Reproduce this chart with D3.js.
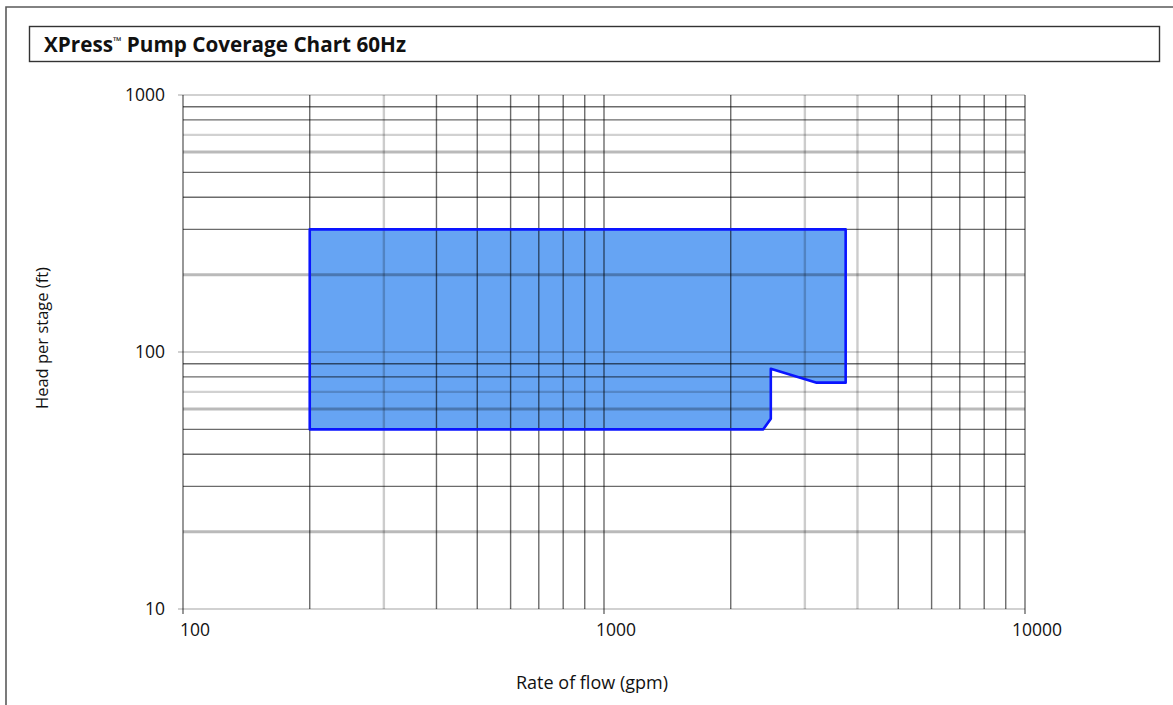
<!DOCTYPE html>
<html><head><meta charset="utf-8">
<script src="https://cdn.jsdelivr.net/npm/d3@7"></script>
<style>html,body{margin:0;padding:0;background:#fff}svg{display:block}</style>
</head><body>
<svg id="chart" width="1173" height="705"></svg>
<script>
// ---- data ----
const titleParts = ["XPress", "\u2122", " Pump Coverage Chart 60Hz"];
const xTitle = "Rate of flow (gpm)";
const yTitle = "Head per stage (ft)";
const xTickLabels = [100, 1000, 10000];
const yTickLabels = [10, 100, 1000];
const xGridValues = [100,200,300,400,500,600,700,800,900,1000,2000,3000,4000,5000,6000,7000,8000,9000,10000];
const yGridValues = [10,20,30,40,50,60,70,80,90,100,200,300,400,500,600,700,800,900,1000];
// coverage envelope (flow gpm, head ft), traced clockwise
const coverageFlow = [200, 2390, 2490, 2490, 3200, 3750, 3750, 200];
const coverageHead = [50, 50, 55, 86, 76, 76, 300, 300];

// ---- styling of the grid (as rendered in the reference) ----
const softX = new Set([300, 3000, 4000]);
const softY = new Set([1000, 700, 100, 70, 10]);
const softThickY = new Set([600, 200, 60, 20]);

const svg = d3.select("#chart");
const W = 1173, H = 705;
const font = "'Open Sans', 'DejaVu Sans', sans-serif";

// outer frame (top + left)
svg.append("path").attr("d", `M6,${H} L6,7 L${W},7`)
  .attr("fill","none").attr("stroke","#5a5a5a").attr("stroke-width",1.6);

// title box
svg.append("rect").attr("x",29.5).attr("y",26.5).attr("width",1130).attr("height",35)
  .attr("fill","none").attr("stroke","#333").attr("stroke-width",1.4);
const tt = svg.append("text").attr("x",44).attr("y",52)
  .attr("font-family",font).attr("font-weight","bold")
  .attr("font-size",20.7).attr("fill","#111");
tt.append("tspan").text(titleParts[0]);
tt.append("tspan").attr("font-size",11).attr("dy",-7).text(titleParts[1]);
tt.append("tspan").attr("dy",7).text(titleParts[2]);

const x = d3.scaleLog().domain([100,10000]).range([183,1025]);
const y = d3.scaleLog().domain([10,1000]).range([609,95]);

// coverage fill
const pts = coverageFlow.map((f,i)=>[x(f), y(coverageHead[i])]);
const lineGen = d3.line().curve(d3.curveLinearClosed);
svg.append("path").attr("d", lineGen(pts)).attr("fill","#66a4f3").attr("stroke","none");

// grid
const g = svg.append("g");
g.selectAll("line.v").data(xGridValues).join("line").attr("class","v")
  .attr("x1",d=>x(d)).attr("x2",d=>x(d)).attr("y1",y(1000))
  .attr("y2",d=>y(10)+(xTickLabels.includes(d)?5:0))
  .attr("stroke", d=> softX.has(d) ? "rgba(0,0,0,0.2)" : "rgba(0,0,0,0.58)")
  .attr("stroke-width", d=> softX.has(d) ? 2.4 : 1.4);
g.selectAll("line.h").data(yGridValues).join("line").attr("class","h")
  .attr("y1",d=>y(d)).attr("y2",d=>y(d))
  .attr("x1",d=>x(100)-(yTickLabels.includes(d)?5:0)).attr("x2",x(10000))
  .attr("stroke", d=> softThickY.has(d) ? "rgba(0,0,0,0.27)" : softY.has(d) ? "rgba(0,0,0,0.18)" : "rgba(0,0,0,0.58)")
  .attr("stroke-width", d=> softThickY.has(d) ? 3 : softY.has(d) ? 2.2 : 1.4);

// coverage outline
svg.append("path").attr("d", lineGen(pts)).attr("fill","none")
  .attr("stroke","#0a14ff").attr("stroke-width",2.6).attr("stroke-linejoin","round");

// axes labels
svg.append("g").selectAll("text").data(xTickLabels).join("text")
  .attr("x",d=>x(d)+12).attr("y",636).attr("text-anchor","middle")
  .attr("font-family",font).attr("font-size",17.5).attr("fill","#111").text(d=>d);
svg.append("g").selectAll("text").data(yTickLabels).join("text")
  .attr("x",165).attr("y",d=>y(d)+6).attr("text-anchor","end")
  .attr("font-family",font).attr("font-size",17.5).attr("fill","#111").text(d=>d);

svg.append("text").attr("x",592).attr("y",689).attr("text-anchor","middle")
  .attr("font-family",font).attr("font-size",18).attr("fill","#111").text(xTitle);
svg.append("text").attr("transform","translate(48,338) rotate(-90)").attr("text-anchor","middle")
  .attr("font-family",font).attr("font-size",16.5).attr("fill","#111").text(yTitle);
</script>
</body></html>
